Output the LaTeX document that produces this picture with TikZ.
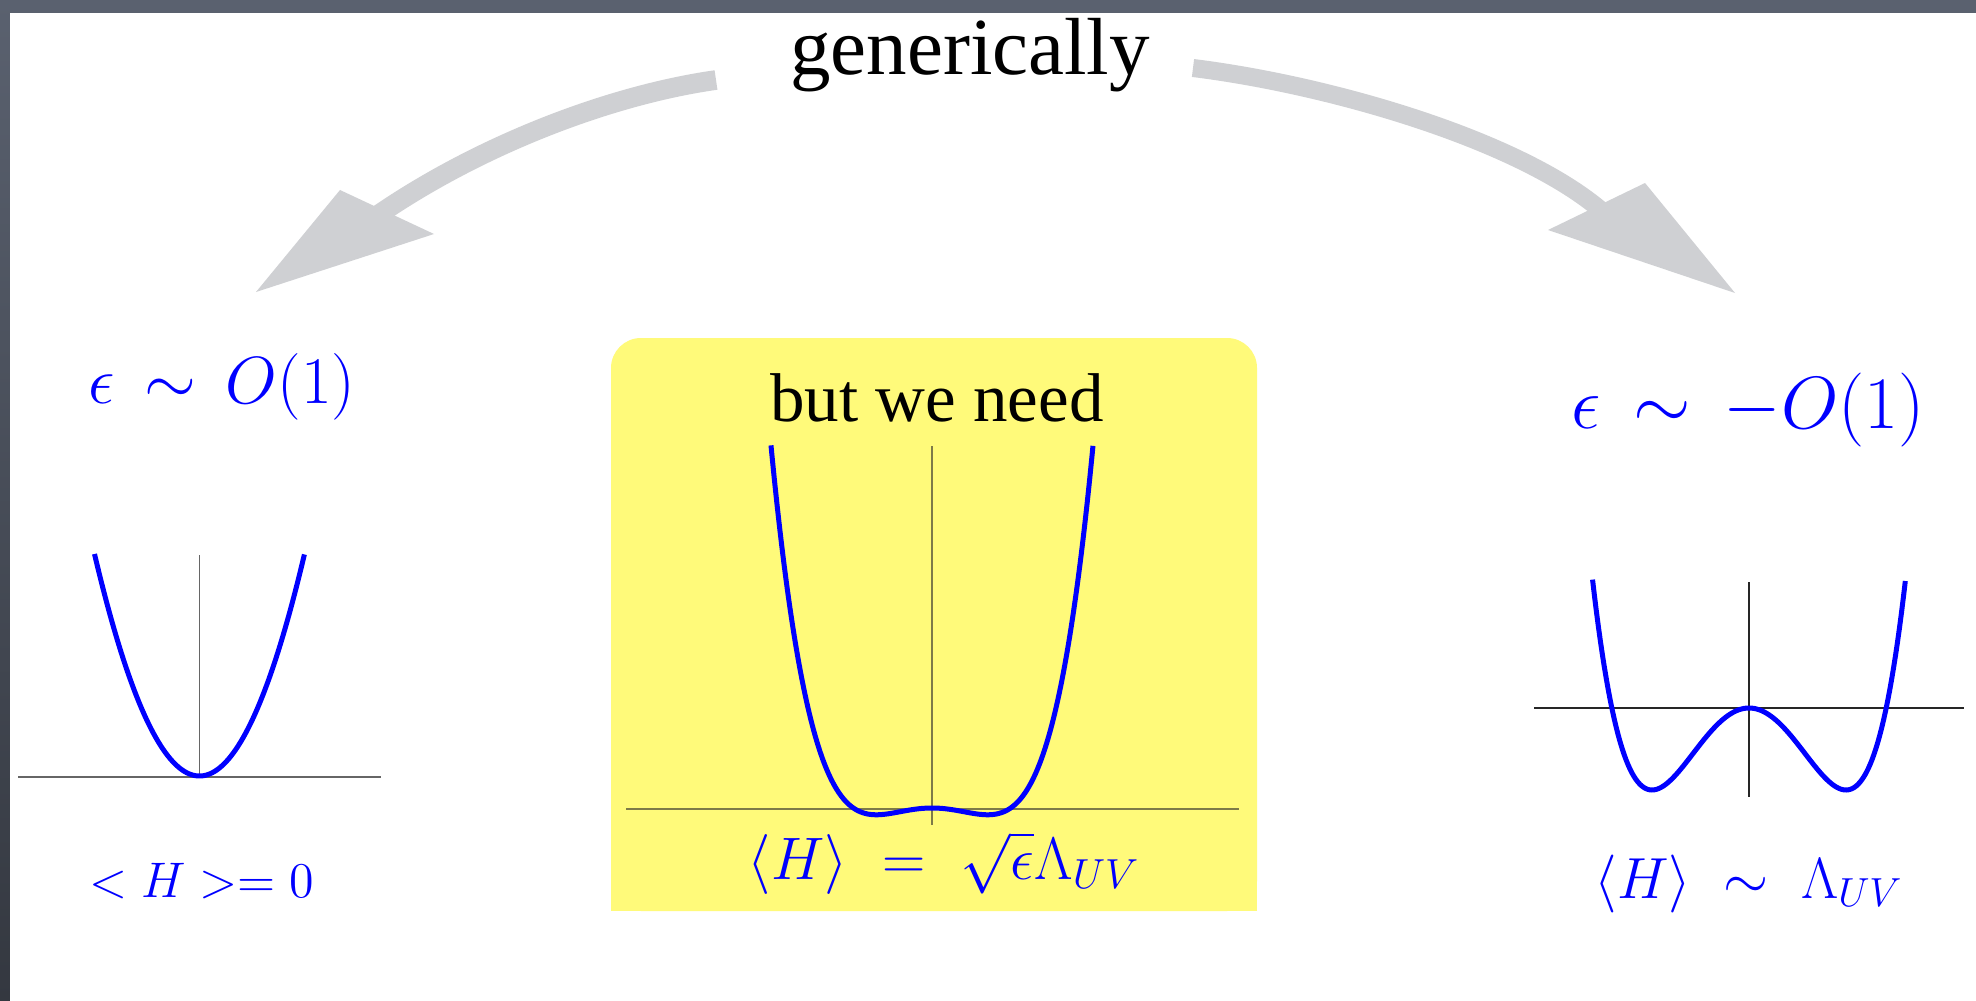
\documentclass[tikz,border=0pt]{standalone}
\usepackage{fix-cm}
\usepackage{fontspec}
\newfontfamily\titlefont{Liberation Serif}
\definecolor{frametop}{RGB}{90,97,111}
\definecolor{framebot}{RGB}{52,56,64}
\definecolor{boxyellow}{RGB}{255,250,122}
\definecolor{arrowgray}{RGB}{207,208,211}
\definecolor{curveblue}{RGB}{0,0,255}
\definecolor{axisolive}{RGB}{125,122,72}
\tikzset{
  curve/.style={draw=curveblue, line width=1.5pt, line join=round},
  axisgray/.style={draw=black!60, line width=0.45pt},
  axisol/.style={draw=axisolive, line width=0.5pt},
  axisblack/.style={draw=black!85, line width=0.4pt},
  bigarrow/.style={draw=arrowgray, line cap=butt},
  arrowheadfill/.style={fill=arrowgray},
  lab/.style={text=curveblue, anchor=base, inner sep=0pt},
  titletext/.style={text=black, anchor=base, inner sep=0pt}
}
\begin{document}
\begin{tikzpicture}[x=0.3pt,y=-0.3pt]
\useasboundingbox (0,0) rectangle (1976,1001);
% frame and page
\shade[top color=frametop, bottom color=framebot] (0,0) rectangle (1976,1001);
\fill[white] (10,13) rectangle (1976,1001);

% yellow box (rounded top corners only)
\fill[boxyellow, rounded corners=9pt] (611,338) rectangle (1257,911);
\fill[boxyellow] (611,420) rectangle (1257,911);

% title
\node[titletext, font=\titlefont\fontsize{24.3}{29}\selectfont] (gen) at (970,75) {generically};

% left arrow
\coordinate (ltail) at (716,80);
\coordinate (lbase) at (378,215);
\draw[bigarrow, line width=5.9pt] (ltail) .. controls (610,95) and (480,145) .. (lbase);
\fill[arrowheadfill] (256,292) -- (340,190) -- (434,234) -- cycle;

% right arrow
\coordinate (rtail) at (1193,68);
\coordinate (rbase) at (1603,212);
\draw[bigarrow, line width=5.4pt] (rtail) .. controls (1330,85) and (1520,140) .. (rbase);
\fill[arrowheadfill] (1735,293) -- (1645,183) -- (1548,230) -- cycle;

% left panel
\node[lab, font=\fontsize{20}{24}\selectfont] (epsL) at (222,403) {$\epsilon\,\sim\,O(1)$};
\draw[axisgray] (18,777) -- (381,777);
\draw[axisgray] (199.5,555) -- (199.5,777);
\draw[curve] plot[domain=-1:1, samples=90] ({199.5+105*\x},{776-222*(\x)*(\x)});
\node[lab, font=\fontsize{15}{18}\selectfont] (vevL) at (202,897) {$<H>=0$};

% center panel
\node[titletext, font=\titlefont\fontsize{20.7}{25}\selectfont] (need) at (937,421) {but we need};
\draw[axisol] (626,809) -- (1239,809);
\draw[axisol] (932,446) -- (932,825);
\draw[curve] plot[domain=-2.896:2.896, samples=220] ({932+55.6*\x},{808-6.77*((\x)*(\x)*(\x)*(\x)-2*(\x)*(\x))});
\node[lab, font=\fontsize{18}{22}\selectfont] (vevC) at (944,879) {$\langle H\rangle\ =\ \sqrt{\epsilon}\Lambda_{UV}$};

% right panel
\node[lab, font=\fontsize{22.2}{27}\selectfont] (epsR) at (1748,428) {$\epsilon\,\sim\,-O(1)$};
\draw[axisblack] (1534,708) -- (1964,708);
\draw[axisblack] (1749,582) -- (1749,797);
\draw[curve] plot[domain=-1.613:1.613, samples=160] ({1749+97*\x},{708-82*((\x)*(\x)*(\x)*(\x)-2*(\x)*(\x))});
\node[lab, font=\fontsize{17.4}{21}\selectfont] (vevR) at (1749,898) {$\langle H\rangle\;\sim\;\Lambda_{UV}$};
\end{tikzpicture}
\end{document}
